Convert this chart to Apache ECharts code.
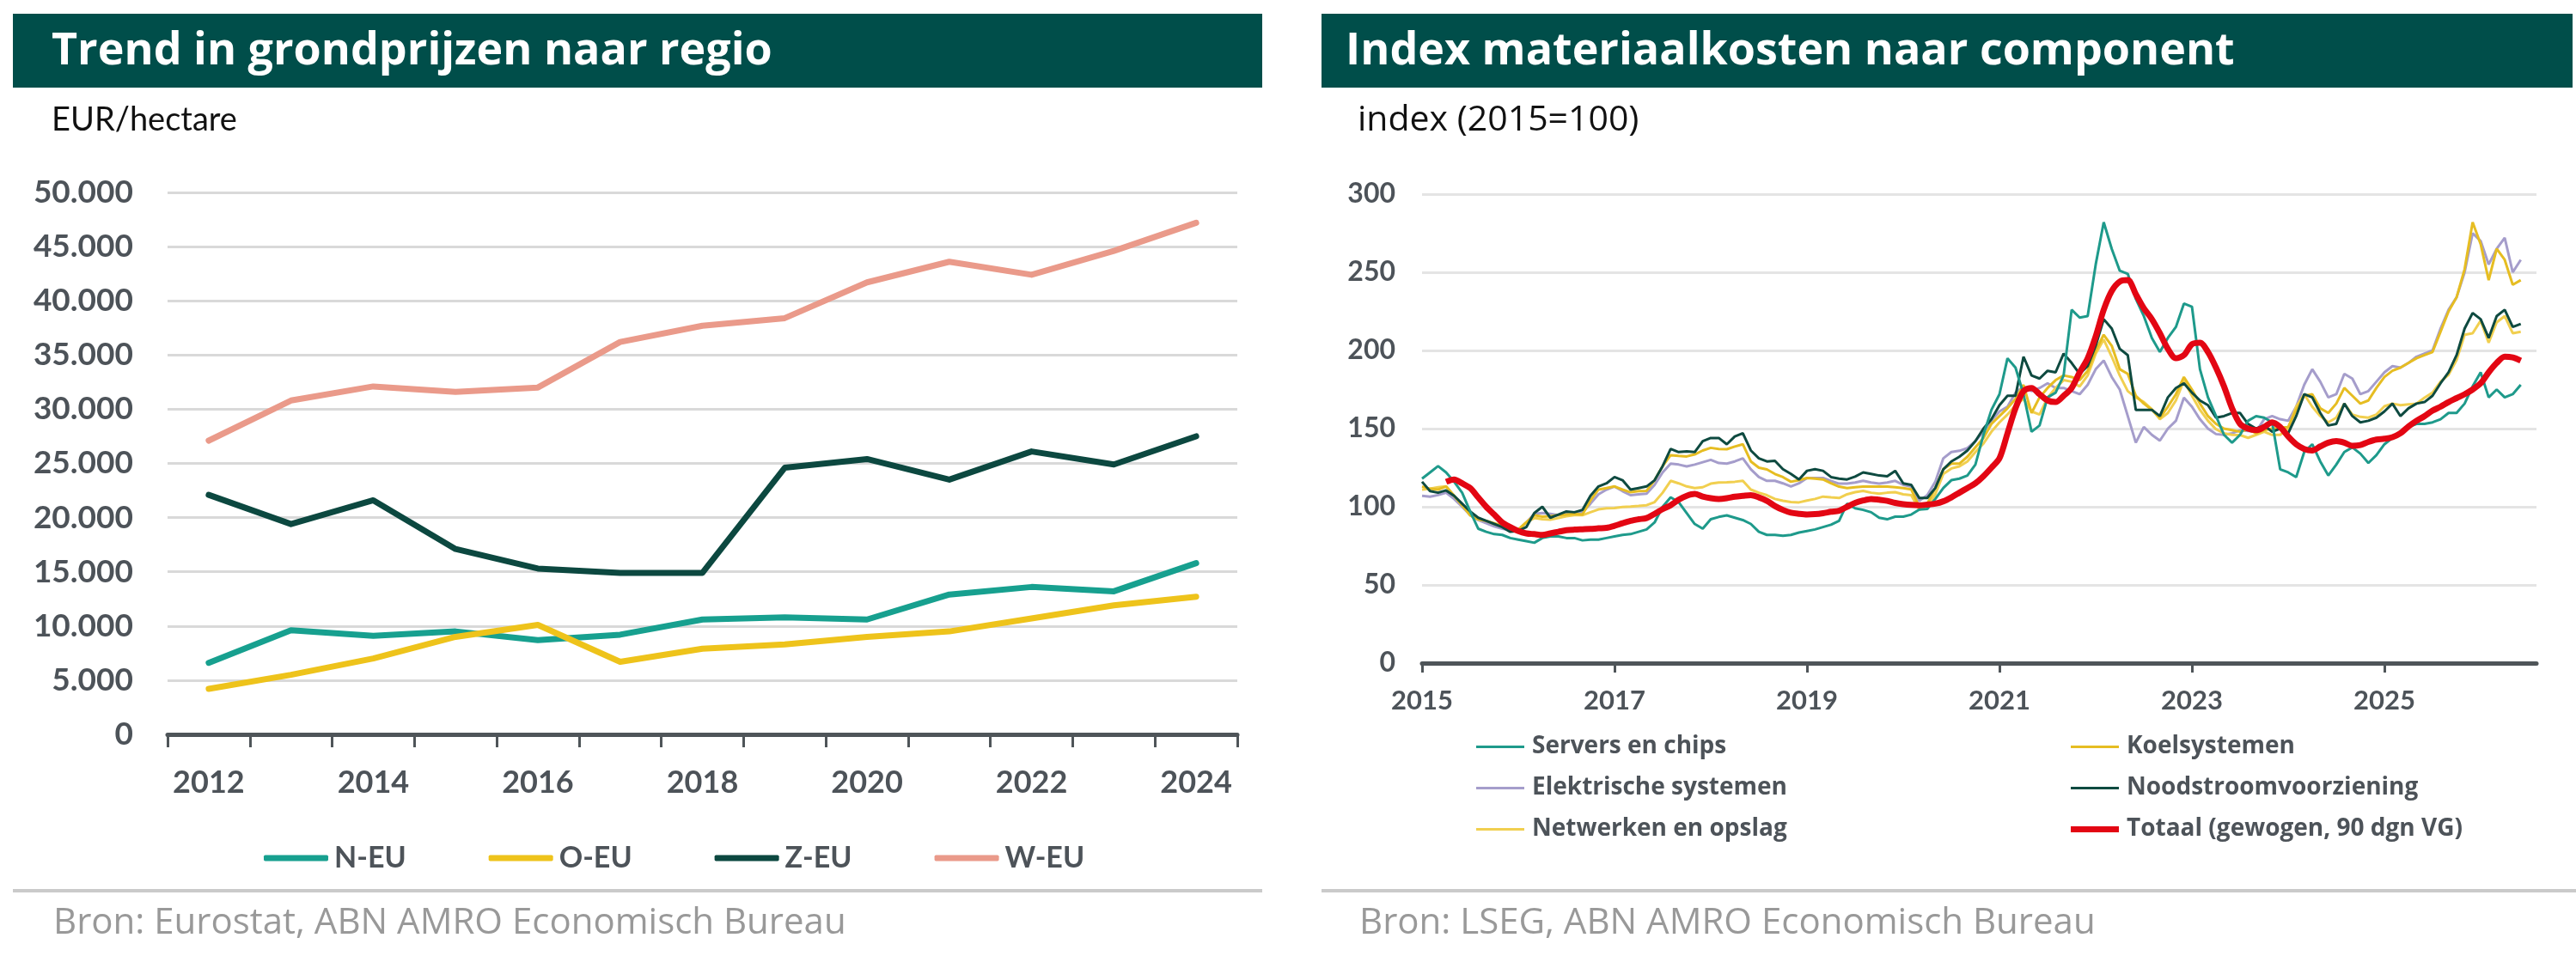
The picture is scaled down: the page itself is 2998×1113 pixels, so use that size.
<!DOCTYPE html>
<html>
<head>
<meta charset="utf-8">
<script src="https://cdn.jsdelivr.net/npm/echarts@6/dist/echarts.min.js"></script>
<style>
  html, body { margin: 0; padding: 0; background: #fff; }
  #chart { width: 2998px; height: 1113px; }
</style>
</head>
<body>
<div id="chart"></div>
<script>
// ---- left chart: grondprijzen (EUR/hectare) ----
const years = ['2012', '2013', '2014', '2015', '2016', '2017', '2018', '2019', '2020', '2021', '2022', '2023', '2024'];
const nEU = [6600, 9600, 9100, 9500, 8700, 9200, 10600, 10800, 10600, 12900, 13600, 13200, 15800];
const oEU = [4200, 5500, 7000, 9000, 10100, 6700, 7900, 8300, 9000, 9500, 10700, 11900, 12700];
const zEU = [22100, 19400, 21600, 17100, 15300, 14900, 14900, 24600, 25400, 23500, 26100, 24900, 27500];
const wEU = [27100, 30800, 32100, 31600, 32000, 36200, 37700, 38400, 41700, 43600, 42400, 44600, 47200];

// ---- right chart: index materiaalkosten (2015=100), monthly from jan 2015 ----
const startYear = 2015;
const serversChips = [
  118, 122, 126, 122, 116, 109, 97, 86, 84, 82.5, 82, 80,
  79, 78, 77, 80, 81, 81, 80, 80, 78.5, 79, 79, 80,
  81, 82, 82.5, 84, 85.5, 90, 100, 106, 103, 96, 89, 86,
  92, 93.5, 94.5, 93, 91.5, 89, 84, 82, 82, 81.5, 82, 83.5,
  84.5, 85.5, 87, 88.5, 91, 102, 99, 98, 96.5, 93, 92, 93.7,
  93.7, 95, 98.2, 98.6, 105, 112, 117, 118, 120, 127, 146, 162,
  172, 195, 189, 172, 148, 152, 170, 173, 184, 226, 221, 222,
  255, 282, 265, 251, 249, 233, 222, 208, 199, 208, 215, 230,
  228, 188, 170, 158, 146, 141, 146, 155, 158, 157, 154, 124,
  122, 119, 135, 140, 129, 120, 127, 135, 138, 134, 128, 133,
  140, 144, 148, 151, 153, 153, 154, 156, 160, 160, 166, 177,
  186, 170, 175, 170, 172, 178
];
const koelsystemen = [
  113, 111.5, 111, 113, 107, 101, 94.6, 92, 91, 89.5, 88, 86.5,
  85.4, 90, 94.6, 93.7, 94, 94.6, 95, 95.5, 95, 104, 111, 112,
  113, 111, 109.3, 110, 110.2, 117, 126, 133, 132.5, 132.2, 133.5, 136,
  137.7, 137, 136.8, 138.5, 140, 129, 125, 123.9, 121, 119, 116, 117,
  118.4, 118, 117.5, 115, 112.9, 112, 112.5, 112.9, 112.9, 112.9, 112.9, 112.5,
  112, 111.1, 100.1, 101.9, 112, 124, 127.6, 127.6, 132, 138, 144, 153,
  158, 163, 169, 178, 160, 170, 176, 181, 184, 183, 181, 187,
  200, 210, 203, 188, 185, 171, 166, 162, 157, 164, 172, 183,
  175, 166, 158, 153, 150, 149, 148, 149.5, 147, 149, 150, 150.5,
  151, 162, 171, 172, 163, 160, 166, 176, 171, 166, 168, 176,
  183, 187, 189, 192, 195, 197, 199, 212, 225, 234, 252, 282,
  268, 245, 265, 258, 242, 245
];
const elektrisch = [
  107, 106.5, 107.5, 109, 105, 100, 94.6, 91.5, 89.5, 87.5, 86, 85,
  84.5, 90, 95.5, 96, 95.5, 94.6, 95.5, 96.4, 96.5, 102, 108, 111,
  113, 110, 107.4, 108, 108.4, 114, 122, 127.6, 127, 125.8, 127, 128.5,
  130, 128, 127.6, 129, 131, 124, 119, 116.6, 116.6, 115, 113, 115,
  118.4, 118.4, 118.4, 116.5, 114.8, 114.8, 115.5, 116.6, 115.5, 114.8, 115.5, 116.6,
  114, 112.9, 103.8, 107.4, 116, 131, 135, 135.8, 137.5, 142, 148, 155,
  161, 164, 173, 177, 174, 176, 179, 176, 176, 174, 172, 178,
  188, 193.6, 183, 175, 158, 141, 151, 146, 142.3, 150, 155, 169.8,
  164, 156, 150, 146.5, 146, 147, 149, 148.5, 148, 156, 158, 156,
  155, 164, 178, 188, 180, 170, 172, 185, 182, 172, 174, 180,
  186, 190, 189, 192, 196, 198, 200, 214, 226, 234, 250, 275,
  270, 255, 265, 272, 250, 258
];
const noodstroom = [
  116, 110, 109, 110.5, 107, 102, 97, 93, 91, 89, 87, 84,
  84.5, 87, 96, 100, 93, 95, 97, 96.5, 98, 107, 113, 115,
  119, 117, 111, 112, 113, 117, 126, 137, 135, 135.5, 135, 142,
  144, 144, 140, 145, 147, 136, 131, 129, 129.4, 124, 121, 117.5,
  123, 124, 123, 119, 118, 117.5, 119.3, 122, 121, 120, 119.5, 123,
  115, 114, 105.6, 105.6, 112, 124, 129, 132, 136, 142, 150, 156,
  165, 171, 171, 196, 184, 182, 187, 186, 198, 192, 185, 190,
  203, 220, 214, 201, 197, 162, 162, 162, 158, 170, 176, 179,
  173, 168, 165, 157, 158, 160, 160, 153, 150, 152, 148, 150,
  147, 158, 172, 170, 160, 152, 153, 166, 158, 154, 155, 157,
  161, 166, 158, 163, 166, 167, 171, 179, 186, 197, 214, 224,
  220, 208, 222, 226, 215, 217
];
const netwerken = [
  111, 111.5, 112.5, 113, 107, 101, 94.6, 92, 91, 89, 87.5, 86,
  85.4, 90, 92.8, 92, 91.8, 92.8, 94, 94.6, 94.6, 96.5, 98.3, 99,
  99.2, 99.8, 100.1, 100.5, 101, 103, 109, 116.6, 115, 113, 112, 112.5,
  114.8, 115.5, 115.7, 116, 116.6, 111, 109, 107.4, 105, 103.8, 103, 102.8,
  104, 105, 106.5, 106, 105.6, 108, 109.3, 110.2, 109, 108.4, 109, 109.3,
  108, 107.4, 98.2, 100.1, 108, 121, 124.5, 125.8, 129, 135, 140.4, 148,
  154, 159, 165, 169, 161, 159, 169.8, 176, 181, 180, 177, 184,
  198, 207, 196, 184, 174, 170, 167, 162.4, 156, 160, 168, 180.8,
  171, 162, 155, 149.6, 147, 146, 145.9, 144.1, 146, 148, 146, 146,
  150, 164, 172, 164, 158, 154, 157, 166, 159, 157.5, 157, 159,
  164.3, 166, 165, 165.5, 166, 169.8, 173, 180, 184.4, 194, 210, 211,
  219, 205, 218, 222, 211, 212
];
// 90-day moving average starts in april 2015 (month index 3)
const totaalStart = 3;
const totaal = [
  116, 117.5, 115, 112, 106, 100, 95, 90, 87,
  84.5, 83, 82.5, 82, 83, 84, 85, 85.4, 85.6, 85.8, 86.2, 86.5,
  87.8, 89.5, 91, 92, 92.8, 95.5, 98.5, 101, 104.5, 107, 108.2, 106.5,
  105.5, 105, 105.5, 106.5, 107, 107.4, 106, 103.8, 100.5, 98, 96.2, 95.5,
  95.1, 95.3, 95.9, 96.8, 97.5, 100, 102.5, 104, 105, 104.5, 103.8, 102.5,
  101.7, 101.2, 101, 101.4, 102, 103.5, 106, 109, 112, 115, 119.5, 125,
  131, 147, 163, 174, 176, 172, 168, 167, 171, 176, 186, 195,
  209, 226, 238, 244, 245, 236, 227, 220, 211, 201, 195, 197,
  204, 205, 199, 189, 177, 163, 153, 150, 149, 151, 154, 151,
  145, 140, 137, 136, 138.6, 141, 142, 141, 139, 139.5, 141.5, 143,
  143.5, 144.5, 147, 151.4, 155, 158, 161.5, 164, 167, 169.5, 172, 175,
  179, 186, 192, 196, 195.5, 193.5
];
const yearTicks = [2015, 2017, 2019, 2021, 2023, 2025];

function monthly(values, offset) {
  return values.map((v, i) => [startYear + (i + offset) / 12, v]);
}
function dots(v) {
  return String(v).replace(/\B(?=(\d{3})+(?!\d))/g, '.');
}

const FONT = 'Lato';
const WIDE = '"Open Sans"';
const labelColor = '#4d5359';
const axisDark = '#4f5559';

const chart = echarts.init(document.getElementById('chart'));

const rightSeries = [
  { name: 'Elektrische systemen', data: elektrisch, color: '#a59dcb' },
  { name: 'Netwerken en opslag', data: netwerken, color: '#f1cf4f' },
  { name: 'Koelsystemen', data: koelsystemen, color: '#e6bd22' },
  { name: 'Noodstroomvoorziening', data: noodstroom, color: '#0e4a40' },
  { name: 'Servers en chips', data: serversChips, color: '#1e9a8b' }
];

function leftLine(name, data, color) {
  return {
    name, type: 'line', xAxisIndex: 0, yAxisIndex: 0, data,
    symbol: 'none', color, lineStyle: { width: 7, color, cap: 'round', join: 'round' }
  };
}

const rightLegendText = { fontFamily: WIDE, fontSize: 28, fontWeight: 'bold', color: labelColor, lineHeight: 31, padding: [0, 0, 0, 4] };

const option = {
  animation: false,
  backgroundColor: '#fff',
  textStyle: { fontFamily: FONT },
  graphic: [
    { type: 'rect', shape: { x: 15, y: 16, width: 1454, height: 86 }, style: { fill: '#004e4a' } },
    { type: 'rect', shape: { x: 1538, y: 16, width: 1456, height: 86 }, style: { fill: '#004e4a' } },
    { type: 'text', x: 60, y: 60, style: { text: 'Trend in grondprijzen naar regio', fill: '#fff', font: 'bold 52px "Open Sans"', textVerticalAlign: 'middle' } },
    { type: 'text', x: 1566, y: 60, style: { text: 'Index materiaalkosten naar component', fill: '#fff', font: 'bold 52px "Open Sans"', textVerticalAlign: 'middle' } },
    { type: 'text', x: 60, y: 140, style: { text: 'EUR/hectare', fill: '#111', font: '38px Lato', textVerticalAlign: 'middle' } },
    { type: 'text', x: 1580, y: 140, style: { text: 'index (2015=100)', fill: '#111', font: '41px "Open Sans"', textVerticalAlign: 'middle' } },
    { type: 'rect', shape: { x: 15, y: 1035, width: 1454, height: 4 }, style: { fill: '#cacaca' } },
    { type: 'rect', shape: { x: 1538, y: 1035, width: 1460, height: 4 }, style: { fill: '#cacaca' } },
    { type: 'text', x: 62, y: 1075, style: { text: 'Bron: Eurostat, ABN AMRO Economisch Bureau', fill: '#999', font: '42px "Open Sans"', textVerticalAlign: 'middle' } },
    { type: 'text', x: 1582, y: 1075, style: { text: 'Bron: LSEG, ABN AMRO Economisch Bureau', fill: '#999', font: '42px "Open Sans"', textVerticalAlign: 'middle' } }
  ],
  grid: [
    { left: 195, top: 224, width: 1245, height: 631, containLabel: false, outerBoundsMode: 'none' },
    { left: 1655, top: 226, width: 1297, height: 546, containLabel: false, outerBoundsMode: 'none' }
  ],
  legend: [
    {
      data: ['N-EU', 'O-EU', 'Z-EU', 'W-EU'],
      left: 307, top: 982, orient: 'horizontal', padding: 0,
      icon: 'roundRect', itemWidth: 75, itemHeight: 7, itemGap: 96,
      textStyle: { fontFamily: FONT, fontSize: 34, fontWeight: 'bold', color: labelColor, padding: [0, 0, 0, 2] }
    },
    {
      data: ['Servers en chips', 'Elektrische systemen', 'Netwerken en opslag'],
      left: 1718, top: 854, orient: 'vertical', padding: 0,
      icon: 'rect', itemWidth: 56, itemHeight: 3, itemGap: 17,
      textStyle: rightLegendText
    },
    {
      data: ['Koelsystemen', 'Noodstroomvoorziening'],
      left: 2410, top: 854, orient: 'vertical', padding: 0,
      icon: 'rect', itemWidth: 56, itemHeight: 3, itemGap: 17,
      textStyle: rightLegendText
    },
    {
      data: ['Totaal (gewogen, 90 dgn VG)'],
      left: 2410, top: 950, orient: 'vertical', padding: 0,
      icon: 'rect', itemWidth: 56, itemHeight: 7,
      textStyle: rightLegendText
    }
  ],
  xAxis: [
    {
      type: 'category', gridIndex: 0, data: years, boundaryGap: true,
      axisLine: { lineStyle: { color: axisDark, width: 5 } },
      axisTick: { show: true, interval: 0, length: 15, lineStyle: { color: axisDark, width: 3 } },
      axisLabel: { interval: 1, margin: 38, fontFamily: FONT, fontSize: 36, fontWeight: 'bold', color: labelColor },
      splitLine: { show: false }
    },
    {
      type: 'value', gridIndex: 1, min: 2015, max: 2026.58, interval: 2,
      axisLine: { lineStyle: { color: axisDark, width: 5 } },
      axisTick: { show: true, length: 11, customValues: yearTicks, lineStyle: { color: axisDark, width: 3 } },
      axisLabel: { customValues: yearTicks, margin: 28, fontFamily: FONT, fontSize: 31, fontWeight: 'bold', color: labelColor, formatter: v => String(Math.round(v)) },
      splitLine: { show: false }
    }
  ],
  yAxis: [
    {
      type: 'value', gridIndex: 0, min: 0, max: 50000, interval: 5000,
      axisLine: { show: false }, axisTick: { show: false },
      axisLabel: { margin: 40, fontFamily: FONT, fontSize: 37, fontWeight: 'bold', color: labelColor, formatter: v => dots(v) },
      splitLine: { lineStyle: { color: '#d9d9d9', width: 3 } }
    },
    {
      type: 'value', gridIndex: 1, min: 0, max: 300, interval: 50,
      axisLine: { show: false }, axisTick: { show: false },
      axisLabel: { margin: 31, fontFamily: FONT, fontSize: 32, fontWeight: 'bold', color: labelColor },
      splitLine: { lineStyle: { color: '#e4e4e4', width: 3 } }
    }
  ],
  series: [
    leftLine('N-EU', nEU, '#17a08f'),
    leftLine('O-EU', oEU, '#eec31b'),
    leftLine('Z-EU', zEU, '#0c4840'),
    leftLine('W-EU', wEU, '#ea9a8a'),
    ...rightSeries.map(s => ({
      name: s.name, type: 'line', xAxisIndex: 1, yAxisIndex: 1,
      data: monthly(s.data, 0), symbol: 'none', color: s.color,
      lineStyle: { width: 3, color: s.color }
    })),
    {
      name: 'Totaal (gewogen, 90 dgn VG)', type: 'line', xAxisIndex: 1, yAxisIndex: 1,
      data: monthly(totaal, totaalStart), symbol: 'none', smooth: 0.3, color: '#e30613',
      lineStyle: { width: 7, color: '#e30613' }
    }
  ]
};

chart.setOption(option);
</script>
</body>
</html>
